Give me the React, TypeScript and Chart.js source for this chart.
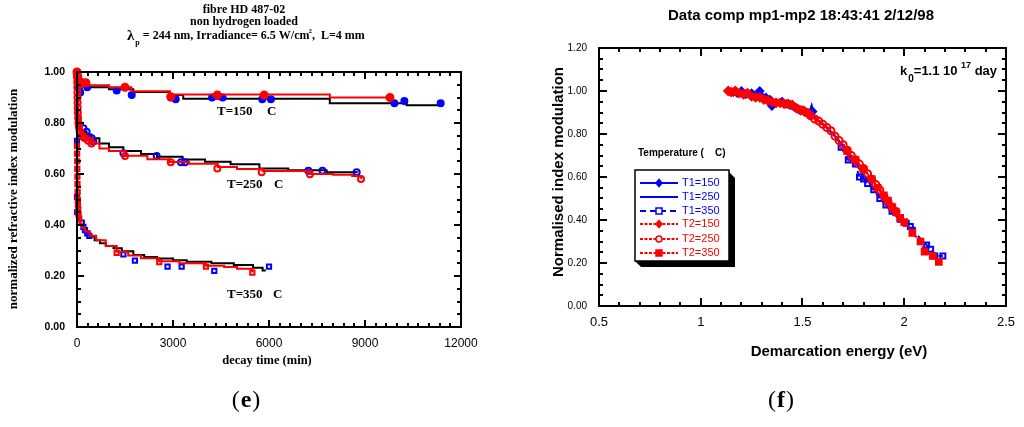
import React, { useEffect, useRef } from "react";
import { Chart, registerables } from "chart.js";
Chart.register(...registerables);

const SERIF = '"Liberation Serif", "Times New Roman", Times, serif';
const SANS = '"Liberation Sans", Arial, Helvetica, sans-serif';
const BLUE = "#0000ff";
const RED = "#ff0000";

// ---------------- Panel (e): decay time data ----------------
const eTimeTicks = [0, 3000, 6000, 9000, 12000];
const eValueTicks = [0, 0.2, 0.4, 0.6, 0.8, 1.0];

// T = 150 C
const e150FitTime = [0, 30, 100, 330, 1000, 1760, 2900, 3320, 7900, 10300, 11440];
const e150FitValue = [1.0, 0.96, 0.95, 0.94, 0.932, 0.922, 0.91, 0.895, 0.877, 0.87, 0.87];
const e150RedTime = [0, 20, 80, 300, 1000, 1700, 2900, 7900, 9780];
const e150RedValue = [1.0, 0.975, 0.96, 0.948, 0.94, 0.925, 0.912, 0.9, 0.9];
const e150BlueTime = [30, 60, 100, 150, 320, 1240, 1710, 2930, 3085, 4220, 4550, 5790, 6060, 9920, 10230, 11365];
const e150BlueValue = [0.98, 0.936, 0.92, 0.96, 0.94, 0.927, 0.91, 0.9, 0.893, 0.9, 0.9, 0.893, 0.893, 0.877, 0.886, 0.877];
const e150RedMarkTime = [0, 10, 20, 40, 80, 150, 280, 1500, 2930, 4385, 5850, 9780];
const e150RedMarkValue = [1.0, 0.99, 0.98, 0.97, 0.96, 0.955, 0.958, 0.94, 0.903, 0.91, 0.91, 0.9];

// T = 250 C
const e250FitTime = [0, 50, 100, 200, 300, 450, 700, 1000, 1450, 2000, 2500, 3300, 4000, 4800, 5700, 6600, 7800, 8750];
const e250FitValue = [0.8, 0.78, 0.77, 0.765, 0.755, 0.74, 0.72, 0.705, 0.69, 0.678, 0.668, 0.657, 0.648, 0.638, 0.622, 0.615, 0.607, 0.605];
const e250RedTime = [0, 5, 10, 15, 20, 30, 45, 60, 100, 200, 300, 500, 700, 1000, 1500, 2200, 2900, 3500, 4400, 5000, 5800, 7300, 8000, 8600, 8880];
const e250RedValue = [1.0, 0.97, 0.94, 0.91, 0.88, 0.85, 0.82, 0.79, 0.765, 0.75, 0.74, 0.72, 0.7, 0.69, 0.672, 0.658, 0.647, 0.64, 0.627, 0.62, 0.612, 0.6, 0.597, 0.592, 0.58];
const e250BlueTime = [200, 300, 460, 510, 1450, 2490, 3250, 3375, 7230, 7670, 8740];
const e250BlueValue = [0.779, 0.766, 0.74, 0.727, 0.681, 0.671, 0.646, 0.646, 0.613, 0.613, 0.607];
const e250RedMarkTime = [0, 3, 6, 9, 12, 15, 18, 22, 28, 35, 45, 60, 80, 100, 150, 200, 250, 350, 450, 1500, 2930, 4385, 5770, 7280, 8875];
const e250RedMarkValue = [1.0, 0.98, 0.96, 0.94, 0.92, 0.9, 0.88, 0.86, 0.84, 0.82, 0.8, 0.785, 0.77, 0.762, 0.75, 0.745, 0.74, 0.73, 0.72, 0.671, 0.646, 0.622, 0.607, 0.599, 0.58];

// T = 350 C
const e350FitTime = [0, 50, 100, 200, 300, 400, 550, 720, 900, 1140, 1400, 1760, 2100, 2500, 3000, 3430, 4200, 4900, 5500, 5800, 5900];
const e350FitValue = [0.45, 0.42, 0.4, 0.385, 0.37, 0.355, 0.34, 0.328, 0.318, 0.309, 0.297, 0.282, 0.275, 0.269, 0.262, 0.256, 0.25, 0.243, 0.232, 0.222, 0.222];
const e350RedTime = [0, 5, 10, 15, 20, 30, 40, 60, 80, 100, 150, 250, 400, 600, 900, 1240, 1600, 2000, 2570, 3200, 4030, 4600, 5000, 5480];
const e350RedValue = [0.71, 0.66, 0.61, 0.56, 0.52, 0.48, 0.45, 0.43, 0.415, 0.405, 0.39, 0.375, 0.358, 0.34, 0.318, 0.295, 0.28, 0.27, 0.258, 0.25, 0.24, 0.235, 0.228, 0.215];
const e350BlueTime = [0, 0, 5, 150, 200, 250, 320, 385, 1450, 1810, 2830, 3270, 4290, 6000];
const e350BlueValue = [0.73, 0.51, 0.45, 0.409, 0.393, 0.38, 0.367, 0.357, 0.285, 0.26, 0.237, 0.237, 0.22, 0.237];
const e350RedMarkTime = [0, 3, 6, 9, 12, 15, 20, 25, 30, 40, 50, 70, 1240, 2570, 4030, 5480];
const e350RedMarkValue = [0.71, 0.68, 0.65, 0.62, 0.59, 0.56, 0.53, 0.5, 0.48, 0.46, 0.44, 0.425, 0.291, 0.254, 0.237, 0.213];

// ---------------- Panel (f): demarcation energy data ----------------
const fEnergyTicks = [0.5, 1, 1.5, 2, 2.5];
const fValueTicks = [0, 0.2, 0.4, 0.6, 0.8, 1.0, 1.2];

const fT1_150Energy = [1.16, 1.18, 1.2, 1.22, 1.25, 1.27, 1.29, 1.3, 1.32, 1.34, 1.35, 1.37, 1.4, 1.42, 1.44, 1.46, 1.48, 1.5, 1.52, 1.54, 1.55];
const fT1_150Value = [0.995, 0.99, 1.0, 0.985, 0.99, 0.98, 1.0, 0.975, 0.97, 0.96, 0.93, 0.945, 0.95, 0.94, 0.935, 0.925, 0.915, 0.91, 0.9, 0.895, 0.905];
const fT1_250Energy = [1.5, 1.53, 1.545, 1.56, 1.58, 1.6, 1.62, 1.64, 1.66, 1.68, 1.7, 1.72, 1.74, 1.76, 1.78, 1.8, 1.82, 1.84, 1.86, 1.88, 1.9, 1.92, 1.94, 1.96, 1.98];
const fT1_250Value = [0.905, 0.89, 0.93, 0.875, 0.86, 0.845, 0.83, 0.81, 0.79, 0.765, 0.745, 0.72, 0.69, 0.665, 0.64, 0.605, 0.585, 0.56, 0.535, 0.51, 0.485, 0.46, 0.44, 0.42, 0.4];
const fT1_350Energy = [1.69, 1.725, 1.76, 1.78, 1.8, 1.82, 1.85, 1.88, 1.91, 1.94, 1.98, 2.01, 2.03, 2.04, 2.11, 2.13, 2.15, 2.19];
const fT1_350Value = [0.738, 0.679, 0.66, 0.6, 0.59, 0.57, 0.54, 0.5, 0.47, 0.44, 0.403, 0.385, 0.37, 0.353, 0.284, 0.264, 0.233, 0.233];
const fT2_150Energy = [1.135, 1.15, 1.17, 1.19, 1.21, 1.23, 1.25, 1.27, 1.29, 1.31, 1.33, 1.35, 1.37, 1.39, 1.41, 1.43, 1.45, 1.47, 1.49, 1.51, 1.53];
const fT2_150Value = [1.0, 0.995, 1.0, 0.99, 0.985, 0.99, 0.975, 0.97, 0.97, 0.96, 0.955, 0.95, 0.945, 0.945, 0.94, 0.94, 0.935, 0.92, 0.91, 0.905, 0.895];
const fT2_250Energy = [1.5, 1.52, 1.54, 1.56, 1.58, 1.6, 1.62, 1.64, 1.66, 1.68, 1.7, 1.72, 1.74, 1.76, 1.78, 1.8, 1.82, 1.84, 1.86, 1.88, 1.9, 1.92, 1.94, 1.96];
const fT2_250Value = [0.91, 0.9, 0.885, 0.87, 0.86, 0.845, 0.83, 0.815, 0.79, 0.77, 0.75, 0.725, 0.7, 0.68, 0.66, 0.64, 0.615, 0.59, 0.565, 0.54, 0.51, 0.485, 0.46, 0.44];
const fT2_350Energy = [1.72, 1.76, 1.8, 1.84, 1.87, 1.9, 1.92, 1.94, 1.96, 1.98, 2.0, 2.04, 2.08, 2.1, 2.14, 2.17];
const fT2_350Value = [0.72, 0.68, 0.635, 0.59, 0.55, 0.515, 0.49, 0.46, 0.435, 0.41, 0.39, 0.34, 0.3, 0.253, 0.233, 0.205];

const fLegendLabels = ["T1=150", "T1=250", "T1=350", "T2=150", "T2=250", "T2=350"];

type Pt = { x: number; y: number };
const zip = (xs: number[], ys: number[]): Pt[] => xs.map((x, i) => ({ x, y: ys[i] }));

function drawFrame(chart: any, xMajor: number, xSub: number, yMajor: number, ySub: number, majorLen: number, minorLen: number) {
  const { ctx, chartArea: a } = chart;
  const xs = chart.scales.x;
  const ys = chart.scales.y;
  ctx.save();
  ctx.strokeStyle = "#000";
  ctx.lineWidth = 2;
  const nx = Math.round((xs.max - xs.min) / xMajor) * xSub;
  for (let i = 0; i <= nx; i++) {
    const v = xs.min + (i * xMajor) / xSub;
    const len = i % xSub === 0 ? majorLen : minorLen;
    const p = Math.round(xs.getPixelForValue(v));
    ctx.beginPath();
    ctx.moveTo(p, a.bottom);
    ctx.lineTo(p, a.bottom - len);
    ctx.moveTo(p, a.top);
    ctx.lineTo(p, a.top + len);
    ctx.stroke();
  }
  const ny = Math.round((ys.max - ys.min) / yMajor) * ySub;
  for (let i = 0; i <= ny; i++) {
    const v = ys.min + (i * yMajor) / ySub;
    const len = i % ySub === 0 ? majorLen : minorLen;
    const p = Math.round(ys.getPixelForValue(v));
    ctx.beginPath();
    ctx.moveTo(a.left, p);
    ctx.lineTo(a.left + len, p);
    ctx.moveTo(a.right, p);
    ctx.lineTo(a.right - len, p);
    ctx.stroke();
  }
  ctx.strokeRect(a.left, a.top, a.right - a.left, a.bottom - a.top);
  ctx.restore();
}

type Part = { t: string; font: string; dy?: number; dx?: number };
function runText(ctx: CanvasRenderingContext2D, parts: Part[], x: number, y: number) {
  ctx.textAlign = "left";
  ctx.textBaseline = "middle";
  for (const p of parts) {
    ctx.font = p.font;
    x += p.dx || 0;
    ctx.fillText(p.t, x, y + (p.dy || 0));
    x += ctx.measureText(p.t).width;
  }
}
function runTextCentered(ctx: CanvasRenderingContext2D, parts: Part[], cx: number, y: number) {
  let w = 0;
  for (const p of parts) {
    ctx.font = p.font;
    w += ctx.measureText(p.t).width + (p.dx || 0);
  }
  runText(ctx, parts, cx - w / 2, y);
}

const panelEDecor = {
  id: "panelEDecor",
  afterDraw(chart: any) {
    const ctx: CanvasRenderingContext2D = chart.ctx;
    drawFrame(chart, 3000, 9, 0.2, 4, 7, 4);
    ctx.save();
    ctx.fillStyle = "#000";
    ctx.textAlign = "center";
    ctx.textBaseline = "middle";
    ctx.font = `bold 12px ${SERIF}`;
    ctx.fillText("fibre HD 487-02", 244, 10);
    ctx.fillText("non hydrogen loaded", 244, 22);
    runText(
      ctx,
      [
        { t: "λ", font: `bold 15px ${SERIF}` },
        { t: "p", font: `bold 8px ${SERIF}`, dy: 7, dx: 1 },
        { t: " = 244 nm, Irradiance= 6.5 W/cm", font: `bold 12px ${SERIF}` },
        { t: "2", font: `bold 7px ${SERIF}`, dy: -5, dx: -1 },
        { t: ",  L=4 mm", font: `bold 12px ${SERIF}` },
      ],
      127,
      36
    );
    ctx.fillStyle = "#000";
    ctx.font = `bold 13px ${SERIF}`;
    ctx.textAlign = "left";
    ctx.fillText("T=150", 217, 112);
    ctx.fillText("C", 267, 112);
    ctx.fillText("T=250", 227, 185);
    ctx.fillText("C", 274, 185);
    ctx.fillText("T=350", 227, 295);
    ctx.fillText("C", 273, 295);
    ctx.textAlign = "center";
    ctx.font = `bold 12.5px ${SERIF}`;
    ctx.fillText("decay time (min)", 267, 361);
    ctx.save();
    ctx.translate(14, 199);
    ctx.rotate(-Math.PI / 2);
    ctx.font = `bold 13px ${SERIF}`;
    ctx.fillText("normalized refractive index modulation", 0, 0);
    ctx.restore();
    ctx.fillStyle = "#000";
    runTextCentered(
      ctx,
      [
        { t: "(", font: `24px ${SERIF}` },
        { t: "e", font: `bold 24px ${SERIF}`, dx: 1 },
        { t: ")", font: `24px ${SERIF}`, dx: 1 },
      ],
      246,
      401
    );
    ctx.restore();
  },
};

type Style = { color: string; dash: number[]; marker: string; filled: boolean; radius: number; lineWidth: number };
const fStyles: Style[] = [
  { color: BLUE, dash: [], marker: "diamond", filled: true, radius: 3.5, lineWidth: 2 },
  { color: BLUE, dash: [], marker: "none", filled: true, radius: 0, lineWidth: 2.5 },
  { color: BLUE, dash: [6, 4], marker: "square", filled: false, radius: 3.5, lineWidth: 2 },
  { color: RED, dash: [3, 1.5], marker: "diamond", filled: true, radius: 4, lineWidth: 2 },
  { color: RED, dash: [3, 1.5], marker: "circle", filled: false, radius: 3.5, lineWidth: 2 },
  { color: RED, dash: [3, 1.5], marker: "square", filled: true, radius: 4, lineWidth: 2 },
];

function drawMarker(ctx: CanvasRenderingContext2D, s: Style, x: number, y: number) {
  if (s.marker === "none") return;
  ctx.save();
  ctx.setLineDash([]);
  ctx.lineWidth = 1.5;
  ctx.strokeStyle = s.color;
  ctx.fillStyle = s.filled ? s.color : "#fff";
  const r = 3;
  ctx.beginPath();
  if (s.marker === "diamond") {
    ctx.moveTo(x, y - r - 0.5);
    ctx.lineTo(x + r, y);
    ctx.lineTo(x, y + r + 0.5);
    ctx.lineTo(x - r, y);
    ctx.closePath();
  } else if (s.marker === "square") {
    ctx.rect(x - r, y - r, 2 * r, 2 * r);
  } else {
    ctx.arc(x, y, r, 0, Math.PI * 2);
  }
  ctx.fill();
  ctx.stroke();
  ctx.restore();
}

const panelFDecor = {
  id: "panelFDecor",
  afterDraw(chart: any) {
    const ctx: CanvasRenderingContext2D = chart.ctx;
    drawFrame(chart, 0.5, 5, 0.2, 4, 8, 4);
    ctx.save();
    ctx.fillStyle = "#000";
    ctx.textAlign = "center";
    ctx.textBaseline = "middle";
    ctx.font = `bold 15px ${SANS}`;
    ctx.fillText("Data comp mp1-mp2 18:43:41 2/12/98", 289, 16);
    ctx.fillText("Demarcation energy (eV)", 327, 352);
    ctx.save();
    ctx.translate(47, 172);
    ctx.rotate(-Math.PI / 2);
    ctx.fillText("Normalised index modulation", 0, 0);
    ctx.restore();
    ctx.fillStyle = "#000";
    runText(
      ctx,
      [
        { t: "k", font: `bold 13px ${SANS}` },
        { t: "0", font: `bold 10px ${SANS}`, dy: 8, dx: 1 },
        { t: "=1.1 10", font: `bold 13px ${SANS}` },
        { t: "17", font: `bold 9px ${SANS}`, dy: -5, dx: 3.5 },
        { t: " day", font: `bold 13px ${SANS}` },
      ],
      388,
      71
    );
    // legend header
    ctx.fillStyle = "#000";
    ctx.font = `bold 10px ${SANS}`;
    ctx.textAlign = "left";
    ctx.fillText("Temperature (", 126, 153);
    ctx.fillText("C)", 203, 153);
    // legend box with shadow
    const L = 123, T = 170, R = 217, B = 261, S = 6;
    ctx.fillStyle = "#000";
    ctx.beginPath();
    ctx.moveTo(R, T + 2);
    ctx.lineTo(R + S, T + 2 + S);
    ctx.lineTo(R + S, B + S);
    ctx.lineTo(L + S, B + S);
    ctx.lineTo(L, B);
    ctx.closePath();
    ctx.fill();
    ctx.fillStyle = "#fff";
    ctx.fillRect(L, T, R - L, B - T);
    ctx.strokeStyle = "#000";
    ctx.lineWidth = 1.5;
    ctx.strokeRect(L, T, R - L, B - T);
    const rowsY = [183, 197, 211, 224, 239, 253];
    fStyles.forEach((s, i) => {
      const y = rowsY[i];
      ctx.save();
      ctx.strokeStyle = s.color;
      ctx.lineWidth = 2;
      ctx.setLineDash(s.dash);
      ctx.beginPath();
      ctx.moveTo(128, y);
      ctx.lineTo(166, y);
      ctx.stroke();
      ctx.restore();
      drawMarker(ctx, s, 147, y);
      ctx.fillStyle = s.color;
      ctx.font = `11px ${SANS}`;
      ctx.textAlign = "left";
      ctx.textBaseline = "middle";
      ctx.fillText(fLegendLabels[i], 170, y);
    });
    ctx.fillStyle = "#000";
    runTextCentered(
      ctx,
      [
        { t: "(", font: `24px ${SERIF}` },
        { t: "f", font: `bold 24px ${SERIF}`, dx: 1 },
        { t: ")", font: `24px ${SERIF}`, dx: 1 },
      ],
      269,
      401
    );
    ctx.restore();
  },
};

function lineSet(data: Pt[], color: string, stepped: any = "before") {
  return {
    data,
    borderColor: color,
    backgroundColor: color,
    borderWidth: 2,
    pointRadius: 0,
    showLine: true,
    stepped,
    tension: 0,
    clip: false as any,
  };
}
function markSet(data: Pt[], color: string, style: string, filled: boolean, radius: number) {
  return {
    data,
    borderColor: color,
    backgroundColor: filled ? color : "rgba(255,255,255,0)",
    pointBackgroundColor: filled ? color : "rgba(255,255,255,0)",
    pointBorderColor: color,
    pointBorderWidth: 2,
    pointStyle: style,
    pointRadius: radius,
    showLine: false,
    clip: false as any,
  };
}

function PanelE() {
  const ref = useRef<HTMLCanvasElement>(null);
  useEffect(() => {
    if (!ref.current) return;
    const chart = new Chart(ref.current, {
      type: "line",
      data: {
        datasets: [
          markSet(zip(e150RedMarkTime, e150RedMarkValue), RED, "circle", true, 3.5),
          markSet(zip(e250RedMarkTime, e250RedMarkValue), RED, "circle", false, 3),
          markSet(zip(e350RedMarkTime, e350RedMarkValue), RED, "rect", false, 3),
          lineSet(zip(e150RedTime, e150RedValue), RED),
          lineSet(zip(e250RedTime, e250RedValue), RED),
          lineSet(zip(e350RedTime, e350RedValue), RED),
          markSet(zip(e150BlueTime, e150BlueValue), BLUE, "circle", true, 3),
          markSet(zip(e250BlueTime, e250BlueValue), BLUE, "circle", false, 3),
          markSet(zip(e350BlueTime, e350BlueValue), BLUE, "rect", false, 3),
          lineSet(zip(e150FitTime, e150FitValue), "#000"),
          lineSet(zip(e250FitTime, e250FitValue), "#000"),
          lineSet(zip(e350FitTime, e350FitValue), "#000"),
        ] as any,
      },
      options: {
        animation: false,
        responsive: false,
        devicePixelRatio: 1,
        layout: { padding: { top: 72, right: 51, bottom: 50, left: 0 } },
        plugins: { legend: { display: false }, tooltip: { enabled: false }, title: { display: false } },
        scales: {
          x: {
            type: "linear",
            min: 0,
            max: 12000,
            grid: { display: false, drawTicks: false },
            border: { display: false },
            afterBuildTicks: (s: any) => {
              s.ticks = eTimeTicks.map((v) => ({ value: v }));
            },
            afterFit: (s: any) => {
              s.height = 50;
            },
            ticks: {
              maxRotation: 0,
              autoSkip: false,
              padding: 9,
              color: "#000",
              font: { family: SANS, size: 12 },
              callback: (v: any) => String(v),
            },
          },
          y: {
            type: "linear",
            min: 0,
            max: 1,
            grid: { display: false, drawTicks: false },
            border: { display: false },
            afterBuildTicks: (s: any) => {
              s.ticks = eValueTicks.map((v) => ({ value: v }));
            },
            afterFit: (s: any) => {
              s.width = 77;
            },
            ticks: {
              autoSkip: false,
              padding: 12,
              color: "#000",
              font: { family: SANS, size: 10.5, weight: "bold" },
              callback: (v: any) => Number(v).toFixed(2),
            },
          },
        },
      } as any,
      plugins: [panelEDecor],
    });
    return () => chart.destroy();
  }, []);
  return <canvas ref={ref} width={512} height={427} style={{ position: "absolute", left: 0, top: 0, width: 512, height: 427 }} />;
}

function fSet(data: Pt[], s: Style) {
  const style = s.marker === "diamond" ? "rectRot" : s.marker === "square" ? "rect" : "circle";
  return {
    data,
    borderColor: s.color,
    backgroundColor: s.color,
    borderWidth: s.lineWidth,
    borderDash: s.dash,
    pointStyle: style,
    pointRadius: s.radius,
    pointBorderWidth: 2,
    pointBorderColor: s.color,
    pointBackgroundColor: s.filled ? s.color : "rgba(255,255,255,0)",
    showLine: true,
    tension: 0,
  };
}

function PanelF() {
  const ref = useRef<HTMLCanvasElement>(null);
  useEffect(() => {
    if (!ref.current) return;
    const chart = new Chart(ref.current, {
      type: "line",
      data: {
        datasets: [
          fSet(zip(fT2_350Energy, fT2_350Value), fStyles[5]),
          fSet(zip(fT2_250Energy, fT2_250Value), fStyles[4]),
          fSet(zip(fT2_150Energy, fT2_150Value), fStyles[3]),
          fSet(zip(fT1_350Energy, fT1_350Value), fStyles[2]),
          fSet(zip(fT1_250Energy, fT1_250Value), fStyles[1]),
          fSet(zip(fT1_150Energy, fT1_150Value), fStyles[0]),
        ] as any,
      },
      options: {
        animation: false,
        responsive: false,
        devicePixelRatio: 1,
        layout: { padding: { top: 48, right: 18, bottom: 61, left: 0 } },
        plugins: { legend: { display: false }, tooltip: { enabled: false }, title: { display: false } },
        scales: {
          x: {
            type: "linear",
            min: 0.5,
            max: 2.5,
            grid: { display: false, drawTicks: false },
            border: { display: false },
            afterBuildTicks: (s: any) => {
              s.ticks = fEnergyTicks.map((v) => ({ value: v }));
            },
            afterFit: (s: any) => {
              s.height = 60;
            },
            ticks: {
              maxRotation: 0,
              autoSkip: false,
              padding: 9,
              color: "#000",
              font: { family: SANS, size: 13 },
              callback: (v: any) => String(v),
            },
          },
          y: {
            type: "linear",
            min: 0,
            max: 1.2,
            grid: { display: false, drawTicks: false },
            border: { display: false },
            afterBuildTicks: (s: any) => {
              s.ticks = fValueTicks.map((v) => ({ value: v }));
            },
            afterFit: (s: any) => {
              s.width = 87;
            },
            ticks: {
              autoSkip: false,
              padding: 12,
              color: "#000",
              font: { family: SANS, size: 10 },
              callback: (v: any) => Number(v).toFixed(2),
            },
          },
        },
      } as any,
      plugins: [panelFDecor],
    });
    return () => chart.destroy();
  }, []);
  return <canvas ref={ref} width={512} height={427} style={{ position: "absolute", left: 512, top: 0, width: 512, height: 427 }} />;
}

export default function App() {
  return (
    <div style={{ position: "fixed", left: 0, top: 0, width: 1024, height: 427, background: "#fff", overflow: "hidden" }}>
      <PanelE />
      <PanelF />
    </div>
  );
}
